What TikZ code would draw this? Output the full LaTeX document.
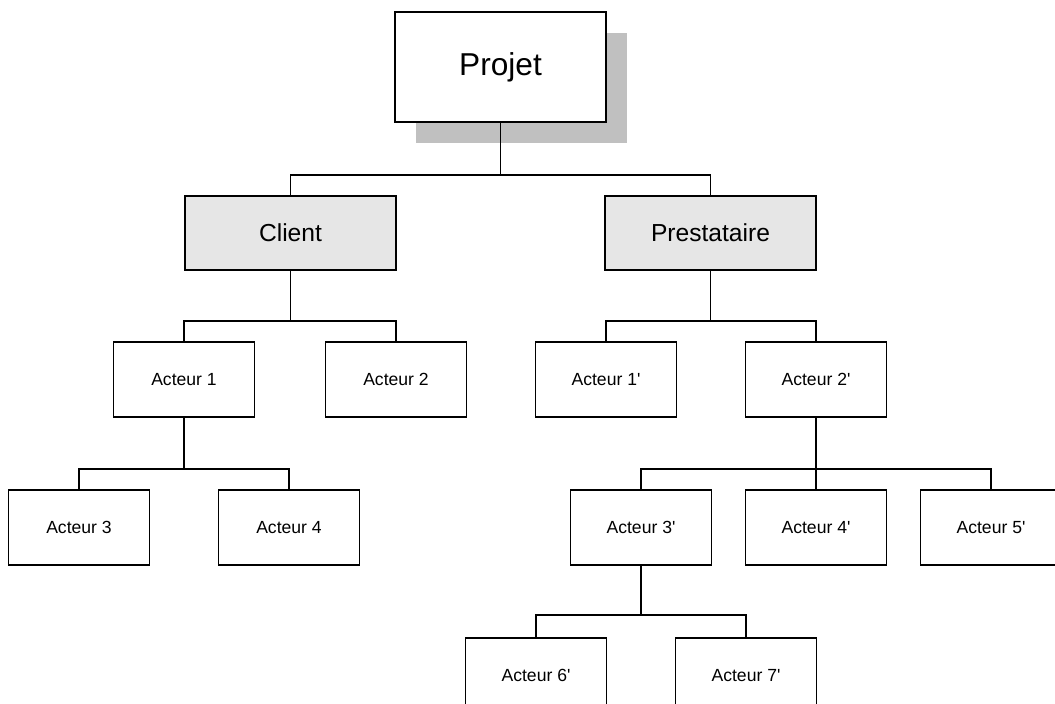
\documentclass[tikz,border=0pt]{standalone}
\usepackage{fontspec}
\setmainfont{Liberation Sans}[Ligatures=TeXOff]
\usetikzlibrary{shadows,calc}
\definecolor{ombre}{HTML}{C0C0C0}
\definecolor{fond}{HTML}{E6E6E6}
\tikzset{
  boite/.style={draw=black, line width=1.3pt, fill=white, inner sep=0pt},
  projet/.style={boite, minimum width=5.275cm, minimum height=2.75cm,
    font=\fontsize{22.5}{26}\selectfont,
    drop shadow={shadow xshift=0.525cm, shadow yshift=-0.525cm, fill=ombre, opacity=1}},
  groupe/.style={boite, fill=fond, minimum width=5.275cm, minimum height=1.85cm,
    font=\fontsize{17.5}{20}\selectfont},
  acteur/.style={boite, minimum width=3.525cm, minimum height=1.875cm,
    font=\fontsize{12.5}{15}\selectfont},
  lien/.style={line width=1.3pt}
}
\begin{document}
\begin{tikzpicture}[x=0.025cm,y=-0.025cm]
\clip (0,0) rectangle (1055,704);
% sommet
\node[projet] (projet) at (500.5,67) {Projet};
\node[groupe] (client) at (290.5,233) {Client};
\node[groupe] (prest) at (710.5,233) {Prestataire};
% cote client
\node[acteur] (a1) at (184,379.5) {Acteur 1};
\node[acteur] (a2) at (396,379.5) {Acteur 2};
\node[acteur] (a3) at (79,527.5) {Acteur 3};
\node[acteur] (a4) at (289,527.5) {Acteur 4};
% cote prestataire
\node[acteur] (b1) at (606,379.5) {Acteur 1'};
\node[acteur] (b2) at (816,379.5) {Acteur 2'};
\node[acteur] (b3) at (641,527.5) {Acteur 3'};
\node[acteur] (b4) at (816,527.5) {Acteur 4'};
\node[acteur] (b5) at (991,527.5) {Acteur 5'};
\node[acteur] (b6) at (536,675.5) {Acteur 6'};
\node[acteur] (b7) at (746,675.5) {Acteur 7'};
% jonctions
\coordinate (j0) at ($(projet.south)+(0,52)$);
\coordinate (j1) at ($(client.south)+(0,50)$);
\coordinate (j2) at ($(a1.south)+(0,51)$);
\coordinate (j3) at ($(prest.south)+(0,50)$);
\coordinate (j4) at ($(b2.south)+(0,51)$);
\coordinate (j5) at ($(b3.south)+(0,49)$);
% liens
\draw[lien] (projet.south) -- (j0);
\draw[lien] (client.north) |- (j0) -| (prest.north);
\draw[lien] (client.south) -- (j1);
\draw[lien] (a1.north) |- (j1) -| (a2.north);
\draw[lien] (a1.south) -- (j2);
\draw[lien] (a3.north) |- (j2) -| (a4.north);
\draw[lien] (prest.south) -- (j3);
\draw[lien] (b1.north) |- (j3) -| (b2.north);
\draw[lien] (b2.south) -- (j4) -- (b4.north);
\draw[lien] (b3.north) |- (j4) -| (b5.north);
\draw[lien] (b3.south) -- (j5);
\draw[lien] (b6.north) |- (j5) -| (b7.north);
\end{tikzpicture}
\end{document}
